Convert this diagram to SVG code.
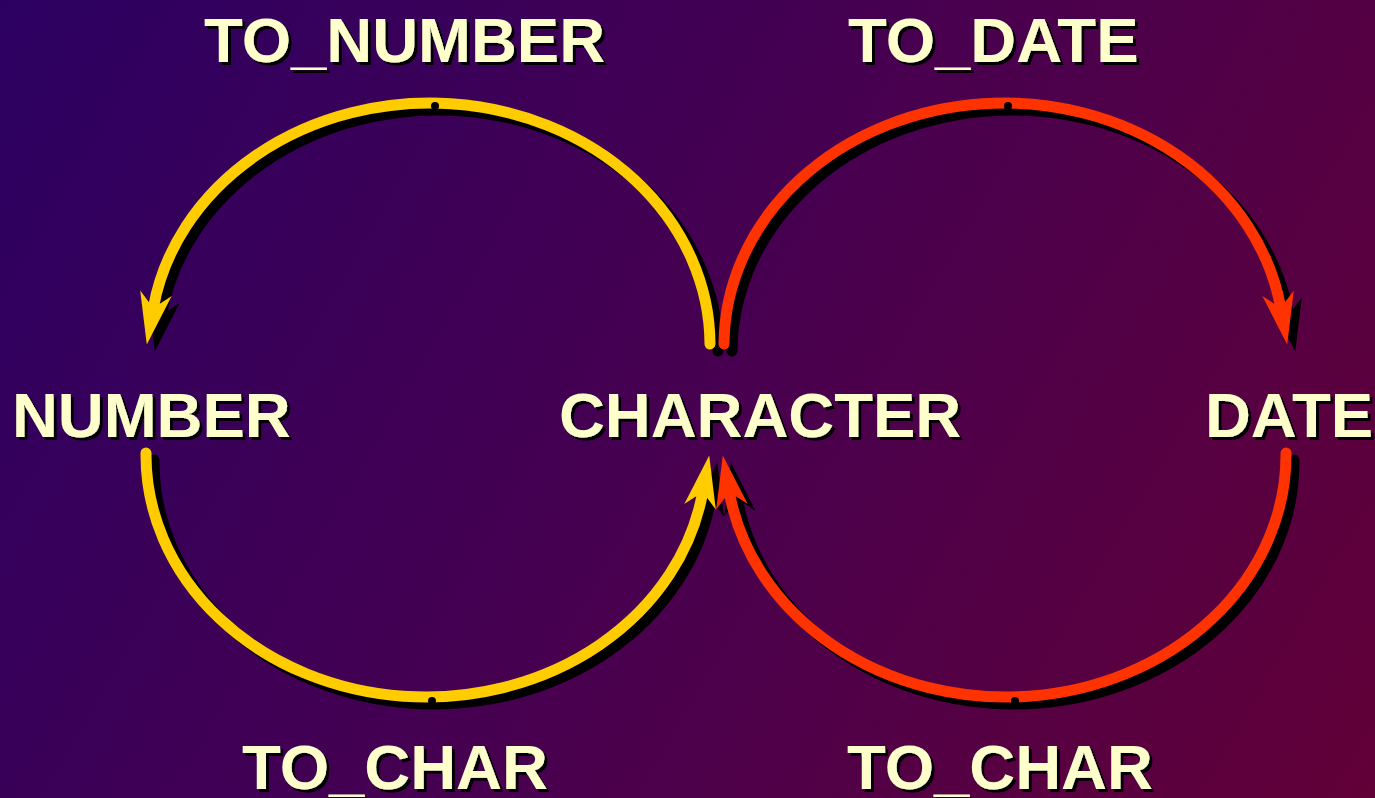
<svg xmlns="http://www.w3.org/2000/svg" width="1375" height="798" viewBox="0 0 1375 798">
<defs>
<linearGradient id="bg" x1="0" y1="0" x2="1375" y2="798" gradientUnits="userSpaceOnUse">
<stop offset="0" stop-color="#2c0062"/>
<stop offset="0.5" stop-color="#470050"/>
<stop offset="1" stop-color="#620038"/>
</linearGradient>
<filter id="tsh" x="-5%" y="-10%" width="115%" height="130%">
<feOffset in="SourceAlpha" dx="3" dy="3" result="o"/>
<feFlood flood-color="#000"/>
<feComposite in2="o" operator="in" result="s"/>
<feMerge><feMergeNode in="s"/><feMergeNode in="SourceGraphic"/></feMerge>
</filter>
<marker id="ay" markerUnits="userSpaceOnUse" refX="15" refY="0" markerWidth="60" markerHeight="40" orient="auto" overflow="visible"><path d="M0,-16 L52,0 L0,16 L15,0 Z" fill="#ffcc00"/></marker>
<marker id="ar" markerUnits="userSpaceOnUse" refX="15" refY="0" markerWidth="60" markerHeight="40" orient="auto" overflow="visible"><path d="M0,-16 L52,0 L0,16 L15,0 Z" fill="#ff3300"/></marker>
<marker id="ak" markerUnits="userSpaceOnUse" refX="15" refY="0" markerWidth="60" markerHeight="40" orient="auto" overflow="visible"><path d="M0,-16 L52,0 L0,16 L15,0 Z" fill="#000"/></marker>
<style>
.arc{fill:none;stroke-width:11;stroke-linecap:round}
.sh{stroke:#000}
.y{stroke:#ffcc00}
.r{stroke:#ff3300}
.t{font-family:"Liberation Sans",Arial,sans-serif;font-weight:bold;font-size:63.5px;fill:#ffffcc;filter:url(#tsh)}
.dot{fill:#000}
</style>
</defs>
<rect width="1375" height="798" fill="url(#bg)"/>
<g id="connectors">
<g transform="translate(8,7)">
<path class="arc sh" marker-end="url(#ak)" d="M710,344 A280,242 0 0 0 153.3,308"/>
<path class="arc sh" marker-end="url(#ak)" d="M146,453 A280,242 0 0 0 702.7,492"/>
<path class="arc sh" marker-end="url(#ak)" d="M724,344 A280,242 0 0 1 1280.7,308"/>
<path class="arc sh" marker-end="url(#ak)" d="M1286,453 A280,242 0 0 1 729.3,492"/>
</g>
<path class="arc y" marker-end="url(#ay)" d="M710,344 A280,242 0 0 0 153.3,308"/>
<path class="arc y" marker-end="url(#ay)" d="M146,453 A280,242 0 0 0 702.7,492"/>
<path class="arc r" marker-end="url(#ar)" d="M724,344 A280,242 0 0 1 1280.7,308"/>
<path class="arc r" marker-end="url(#ar)" d="M1286,453 A280,242 0 0 1 729.3,492"/>
<circle class="dot" cx="435" cy="106" r="4"/>
<circle class="dot" cx="1008" cy="106" r="4"/>
<circle class="dot" cx="432" cy="701" r="4"/>
<circle class="dot" cx="1015" cy="701" r="4"/>
</g>
<g id="label-to-number"><text class="t" x="204" y="62">TO_NUMBER</text></g>
<g id="label-to-date"><text class="t" x="848" y="62">TO_DATE</text></g>
<g id="node-number"><text class="t" x="12" y="437">NUMBER</text></g>
<g id="node-character"><text class="t" x="559" y="437">CHARACTER</text></g>
<g id="node-date"><text class="t" x="1205" y="437">DATE</text></g>
<g id="label-to-char-left"><text class="t" x="242" y="789">TO_CHAR</text></g>
<g id="label-to-char-right"><text class="t" x="847" y="789">TO_CHAR</text></g>
</svg>
